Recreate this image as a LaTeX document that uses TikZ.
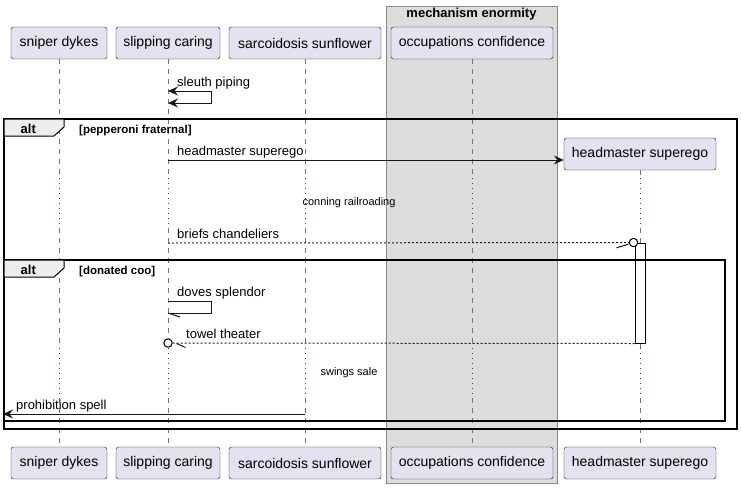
\documentclass[tikz,border=0pt]{standalone}
\usepackage{fontspec}
\setmainfont{Liberation Sans}
\usetikzlibrary{arrows.meta,calc}

\definecolor{partfill}{RGB}{226,226,240}
\definecolor{partline}{RGB}{24,24,24}
\definecolor{groupfill}{RGB}{221,221,221}
\definecolor{groupline}{RGB}{136,136,136}
\definecolor{tabfill}{RGB}{238,238,238}
\definecolor{delaycol}{RGB}{140,20,70}

\tikzset{
  actor/.style={draw=partline, fill=partfill, rounded corners=2.5pt, minimum height=32pt,
    inner sep=0pt, font=\fontsize{14}{16}\selectfont},
  groupbox/.style={draw=groupline, fill=groupfill, line width=0.8pt},
  grouptitle/.style={inner sep=0pt, font=\fontsize{13}{15}\selectfont\bfseries},
  lifeline/.style={draw=partline!60, line width=0.6pt, dash pattern=on 5pt off 5pt},
  delayline/.style={draw=delaycol, line width=1pt, dash pattern=on 1pt off 4pt},
  msgline/.style={draw=partline, line width=1pt},
  tip/.style={-{Stealth[length=10pt,width=9pt,inset=3.5pt]}},
  msg/.style={msgline, tip},
  reply/.style={msgline, dash pattern=on 2pt off 2pt},
  lbl/.style={anchor=base west, inner sep=0pt, font=\fontsize{13}{15}\selectfont},
  delaytxt/.style={inner sep=0pt, font=\fontsize{11}{13}\selectfont},
  frameline/.style={draw=black, line width=1.5pt},
  frametab/.style={draw=black, fill=tabfill, line width=1pt},
  tabtxt/.style={anchor=base west, inner sep=0pt, font=\fontsize{13}{15}\selectfont\bfseries},
  guardtxt/.style={anchor=base west, inner sep=0pt, font=\fontsize{11.5}{13}\selectfont\bfseries},
  actbox/.style={draw=black, fill=white, line width=1pt, minimum width=10pt, inner sep=0pt},
  endring/.style={draw=black, fill=white, line width=1pt}
}

\begin{document}
\begin{tikzpicture}[x=1pt,y=-1pt]
  \useasboundingbox (0,0) rectangle (741,488);

  % box round the last two participants
  \draw[groupbox] (386,6) rectangle (557,483);
  \node[grouptitle] (gtitle) at (471.5,14) {mechanism enormity};

  % participants
  \node[actor, minimum width=96pt]  (top-sd) at (59,43)  {sniper dykes};
  \node[actor, minimum width=104pt] (top-sc) at (168,43) {slipping caring};
  \node[actor, minimum width=152pt] (top-ss) at (305,43) {sarcoidosis sunflower};
  \node[actor, minimum width=162pt] (top-oc) at (472,43) {occupations confidence};
  \node[actor, minimum width=152pt] (top-hs) at (640,154) {headmaster superego};

  \node[actor, minimum width=96pt]  (bot-sd) at (59,463)  {sniper dykes};
  \node[actor, minimum width=104pt] (bot-sc) at (168,463) {slipping caring};
  \node[actor, minimum width=152pt] (bot-ss) at (305,463) {sarcoidosis sunflower};
  \node[actor, minimum width=162pt] (bot-oc) at (472,463) {occupations confidence};
  \node[actor, minimum width=152pt] (bot-hs) at (640,463) {headmaster superego};

  % rows
  \coordinate (r-sl1) at (0,91);
  \coordinate (r-sl2) at (0,103);
  \coordinate (r-hm)  at (0,160);
  \coordinate (d1a)   at (0,178);
  \coordinate (d1b)   at (0,228);
  \coordinate (r-br)  at (0,243);
  \coordinate (r-dv1) at (0,301);
  \coordinate (r-dv2) at (0,313);
  \coordinate (r-tw)  at (0,343);
  \coordinate (d2a)   at (0,348);
  \coordinate (d2b)   at (0,398);
  \coordinate (r-pr)  at (0,414);
  \coordinate (outer) at (3,414);

  % activation on headmaster superego
  \node[actbox, minimum height=100pt] (act) at (640,293) {};

  % lifelines
  \foreach \p in {sd,sc,ss,oc}{
    \draw[lifeline]  (top-\p.south) -- (top-\p |- d1a);
    \draw[delayline] (top-\p |- d1a) -- (top-\p |- d1b);
    \draw[lifeline]  (top-\p |- d1b) -- (top-\p |- d2a);
    \draw[delayline] (top-\p |- d2a) -- (top-\p |- d2b);
    \draw[lifeline]  (top-\p |- d2b) -- (bot-\p.north);
  }
  \draw[lifeline]  (top-hs.south) -- (top-hs |- d1a);
  \draw[delayline] (top-hs |- d1a) -- (top-hs |- d1b);
  \draw[lifeline]  (top-hs |- d1b) -- (act.north);
  \draw[lifeline]  (act.south) -- (top-hs |- d2a);
  \draw[delayline] (top-hs |- d2a) -- (top-hs |- d2b);
  \draw[lifeline]  (top-hs |- d2b) -- (bot-hs.north);
  \node[actbox, minimum height=100pt] at (act) {};

  % alt frames
  \draw[frameline] (4,119) rectangle (737,429);
  \draw[frametab] (4,119) -- (64,119) -- (64,127) -- (54,136) -- (4,136) -- cycle;
  \node[tabtxt] (alt1) at (20.5,133.5) {alt};
  \node[guardtxt] (g1) at (79,133) {[pepperoni fraternal]};

  \draw[frameline] (4,260) rectangle (725,421);
  \draw[frametab] (4,260) -- (64,260) -- (64,268) -- (54,277) -- (4,277) -- cycle;
  \node[tabtxt] (alt2) at (20.5,274.5) {alt};
  \node[guardtxt] (g2) at (79,274) {[donated coo]};

  % messages
  \draw[msgline, {Stealth[length=10pt,width=9pt,inset=3.5pt]}-{Stealth[length=10pt,width=9pt,inset=3.5pt]}]
    (top-sc |- r-sl1) -- ++(43,0) -- ++(0,12) -- (top-sc |- r-sl2);
  \node[lbl] (l-sl) at ($(top-sc |- r-sl1)+(9,-5)$) {sleuth piping};

  \draw[msg] (top-sc |- r-hm) -- (top-hs.west |- r-hm);
  \node[lbl] (l-hm) at ($(top-sc |- r-hm)+(9,-5)$) {headmaster superego};

  \node[delaytxt] (dl1) at (349,203) {conning railroading};

  \draw[reply] (top-sc |- r-br) -- ($(act.north west)+(-5,0)$);
  \draw[msgline] ($(act.north west)+(-6,1.7)$) -- ++(-12,3.6);
  \draw[endring] ($(act.north west)+(-1,0)$) circle (4.2pt);
  \node[lbl] (l-br) at ($(top-sc |- r-br)+(9,-5)$) {briefs chandeliers};

  \draw[msgline] (top-sc |- r-dv1) -- ++(43,0) -- ++(0,12) -- (top-sc |- r-dv2);
  \draw[msgline] (top-sc |- r-dv2) -- ++(12,4);
  \node[lbl] (l-dv) at ($(top-sc |- r-dv1)+(9,-5)$) {doves splendor};

  \draw[reply] (act.south west) -- ($(top-sc |- r-tw)+(4.5,0)$);
  \draw[msgline] ($(top-sc |- r-tw)+(8.5,0.5)$) -- ++(9,4);
  \draw[endring] (top-sc |- r-tw) circle (4.2pt);
  \node[lbl] (l-tw) at ($(top-sc |- r-tw)+(18,-5)$) {towel theater};

  \node[delaytxt] (dl2) at (349,373) {swings sale};

  \draw[msg] (top-ss |- r-pr) -- (outer);
  \node[lbl] (l-pr) at ($(outer)+(13,-5)$) {prohibition spell};
\end{tikzpicture}
\end{document}
